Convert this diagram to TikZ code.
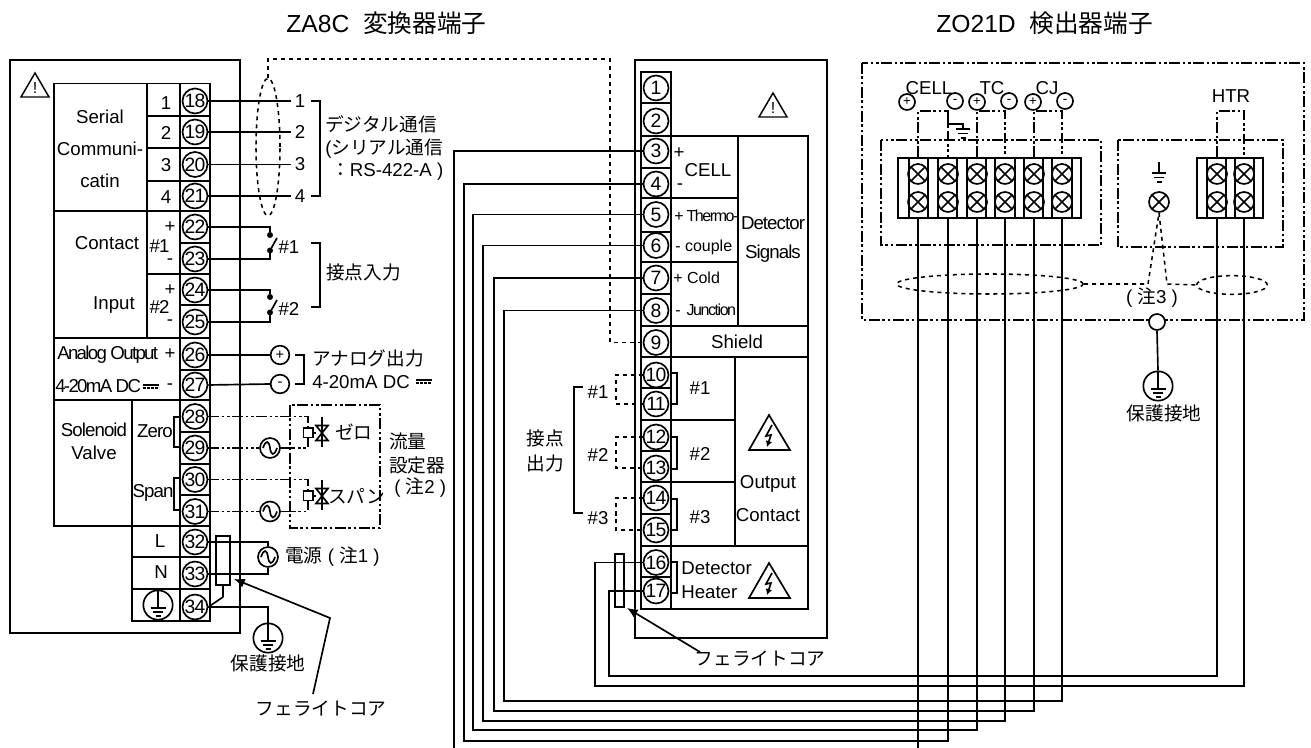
\documentclass[tikz,border=0pt]{standalone}
\usepackage{fontspec}
\usetikzlibrary{shapes.geometric, arrows.meta}
\setmainfont{Liberation Sans}
\newfontfamily\cjk{Noto Sans CJK JP}
\newfontfamily\tightfont[LetterSpace=-9]{Liberation Sans}
\newfontfamily\snugfont[LetterSpace=-5]{Liberation Sans}

\tikzset{
    every node/.style={inner sep=0pt, font=\fontsize{14}{17}\selectfont},
    frame/.style={line width=1.6pt},
    cell/.style={line width=1.25pt},
    wire/.style={line width=1.25pt},
    dashdot/.style={line width=1.15pt, dash pattern=on 8pt off 2pt on 2pt off 2pt on 2pt off 2pt},
    shield/.style={line width=1.15pt, dash pattern=on 3pt off 3pt},
    term/.style={draw, circle, line width=1.25pt, minimum size=18.75pt, font=\fontsize{14.5}{16}\snugfont},
    ring/.style={draw, circle, line width=1.25pt, minimum size=14pt, font=\fontsize{11}{13}\selectfont},
    ringsmall/.style={ring, minimum size=12pt, font=\fontsize{10}{12}\selectfont},
    earth/.style={ring, minimum size=22pt},
    source/.style={ring, minimum size=15pt},
    tag/.style={inner sep=3pt},
    spot/.style={draw, circle, fill=black, minimum size=4pt},
    core/.style={draw, line width=1.25pt},
    bigtip/.style={-{Latex[length=8pt,width=7pt]}},
    screw/.style={draw, circle, line width=1.25pt, minimum size=15pt, path picture={
        \draw[line width=1.25pt] (path picture bounding box.south west) -- (path picture bounding box.north east);
        \draw[line width=1.25pt] (path picture bounding box.north west) -- (path picture bounding box.south east);}},
    small/.style={font=\fontsize{12}{14}\selectfont},
    title/.style={font=\fontsize{18.5}{22}\selectfont},
}

\begin{document}
\begin{tikzpicture}[x=0.75pt, y=-0.75pt]
    \useasboundingbox (0, 0) rectangle (1311, 748);

    % titles
    \node[title, anchor=west] (titleza) at (286, 23) {ZA8C\ \ {\cjk 変換器端子}};
    \node[title, anchor=west] (titlezo) at (936, 23) {ZO21D\ \ {\cjk 検出器端子}};

    % converter panel
    \draw[frame] (10, 60) rectangle (240, 633);
    \draw[cell] (180, 83.5) rectangle (210, 621);
    \foreach \y in {116, 148, 181, 211, 243, 274, 305, 338, 370, 400, 432, 464, 495, 526, 557, 589}
        \draw[cell] (180, \y) -- (210, \y);
    \draw[cell] (180, 83.5) -- (54, 83.5) -- (54, 526) -- (180, 526);
    \draw[cell] (147, 83.5) -- (147, 338);
    \draw[cell] (132, 400) -- (132, 621) -- (180, 621);
    \foreach \y in {116, 148, 181, 274}
        \draw[cell] (147, \y) -- (180, \y);
    \foreach \y in {557, 589}
        \draw[cell] (132, \y) -- (180, \y);
    \foreach \y in {211, 338, 400}
        \draw[cell] (54, \y) -- (180, \y);
    \draw[cell] (180, 417) -- (174, 417) -- (174, 447) -- (180, 447);
    \draw[cell] (180, 478) -- (174, 478) -- (174, 510) -- (180, 510);

    \foreach \n/\y in {18/101, 19/132, 20/164.5, 21/196, 22/227, 23/259, 24/290, 25/322, 26/355, 27/385,
                       28/416.5, 29/448, 30/479.5, 31/511.5, 32/542, 33/574, 34/607}
        \node[term] (t\n) at (195, \y) {\n};

    \node (nserial) at (100, 117) {Serial};
    \node (ncomm) at (100, 149) {Communi-};
    \node (ncatin) at (100, 181) {catin};
    \foreach \n/\y in {1/103, 2/133, 3/165, 4/197}
        \node (pin\n) at (166, \y) {\n};
    \node (ncontact) at (107, 243) {Contact};
    \node (ninput) at (114, 305) {Input};
    \node (nca) at (159.5, 246) {\snugfont\#1};
    \node (ncb) at (159.5, 307) {\snugfont\#2};
    \node (cap) at (170, 227) {+};
    \node (cam) at (170, 262) {-};
    \node (cbp) at (170, 290) {+};
    \node (cbm) at (170, 323) {-};
    \node[anchor=west] (nanalog) at (57, 355) {\tightfont Analog Output};
    \node[anchor=west] (nma) at (55, 386) {\tightfont 4-20mA DC};
    \node (anp) at (170, 354) {+};
    \node (anm) at (170, 387) {-};
    \node (nsol) at (94, 430) {\snugfont Solenoid};
    \node (nvalve) at (94, 453) {Valve};
    \node (nzero) at (155, 431) {\snugfont Zero};
    \node (nspan) at (153, 493) {\snugfont Span};
    \node (nl) at (160, 541) {L};
    \node (nn) at (161, 572) {N};
    \node[earth] (gea) at (158, 605) {};

    % serial wires
    \node[ellipse, draw, shield, minimum width=18pt, minimum height=103pt] (shroud) at (268, 147) {};
    \foreach \n/\t/\y in {1/18/101, 2/19/132, 3/20/164.5, 4/21/196} {
        \node[tag] (d\n) at (300, \y) {\n};
        \draw[wire] (t\t.east) -- (d\n.west);
    }
    \draw[wire] (311, 101) -- (320, 101) -- (320, 196) -- (311, 196);
    \node[anchor=west] (ndigi) at (325, 124) {\cjk デジタル通信};
    \node[anchor=west] (nseri) at (325, 149) {({\cjk シリアル通信}};
    \node[anchor=west] (nrs) at (331, 172) {{\cjk ：}RS-422-A )};

    % contact inputs
    \foreach \a/\b/\n/\y in {22/23/1/235, 24/25/2/297} {
        \node[spot] (swa\n) at (270, \y) {};
        \node[spot] (swb\n) at (270, \y+15.5) {};
        \coordinate (arm\n) at (277, \y+3);
        \draw[wire] (t\a.east) -| (swa\n);
        \draw[wire] (t\b.east) -| (swb\n);
        \draw[wire] (swb\n) -- (arm\n);
        \node (ns\n) at (289, \y+12) {\#\n};
    }
    \draw[wire] (311, 243) -- (320, 243) -- (320, 307) -- (311, 307);
    \node[anchor=west] (ninp) at (326, 272) {\cjk 接点入力};

    % analog output
    \node[ring] (app) at (280, 355) {+};
    \node[ring] (apm) at (280, 384) {-};
    \draw[wire] (t26.east) -- (app.west);
    \draw[wire] (t27.east) -- (apm.west);
    \draw[wire] (295, 355) -- (304, 355) -- (304, 384) -- (295, 384);
    \node[anchor=west] (naout) at (312, 358) {\cjk アナログ出力};
    \node[anchor=west] (nadc) at (312, 382) {4-20mA DC};
    \foreach \x/\y in {143/385, 416/380} {
        \draw[line width=0.8pt] (\x, \y) -- (\x+16, \y);
        \draw[line width=0.8pt, dash pattern=on 2pt off 1pt] (\x, \y+3) -- (\x+16, \y+3);
    }

    % flow setting box
    \draw[dashdot] (290, 405) rectangle (380, 528);
    \foreach \v/\a/\b/\y/\s in {z/28/29/433/448, p/30/31/496/511.5} {
        \node[source] (src\v) at (270, \s) {};
        \coordinate (turn\v) at (308, \s);
        \coordinate (edge\v) at (290, \s);
        \draw[dashdot] (t\a.east) -| (turn\v) -- (edge\v);
        \draw[wire] (src\v.east) -- (edge\v);
        \draw[dashdot] (t\b.east) -- (src\v.west);
        \node[draw, line width=1.25pt, minimum size=7pt, fill=white] (sq\v) at (308, \y) {};
        \draw[wire] (sq\v.east) -- (316, \y);
        \draw[wire] (316, \y-7.5) -- (328, \y-7.5) -- (316, \y+7.5) -- (328, \y+7.5) -- cycle;
        \draw[wire] (322, \y-16) -- (322, \y+14);
    }
    \node[anchor=west] (nzr) at (335, 432) {\cjk ゼロ};
    \node[anchor=west] (nsp) at (328, 496) {\cjk スパン};
    \node[anchor=west] (nflow) at (389, 441) {\cjk 流量};
    \node[anchor=west] (nset) at (389, 465) {\cjk 設定器};
    \node[anchor=west] (nnote) at (394, 488) {( {\cjk 注}2 )};

    % power
    \node[source] (srcm) at (268, 557) {};
    \draw[wire] (t32.east) -| (srcm.north);
    \draw[wire] (t33.east) -| (srcm.south);
    \node[anchor=west] (npow) at (285, 557) {{\cjk 電源} ( {\cjk 注}1 )};
    \foreach \n in {srcz, srcp, srcm} {
        \draw[wire, shift={(\n)}] (-7, 0) .. controls (-4, -9) and (-1, -7) .. (0, 0) .. controls (1, 7) and (4, 9) .. (7, 0);
    }
    \node[core, minimum width=10.5pt, minimum height=37pt] (corea) at (223, 560.5) {};
    \node[earth] (geb) at (268, 638) {};
    \coordinate (kink) at (223, 597);
    \draw[wire] (t34.east) -- (kink) -- (corea.south);
    \draw[wire] (t34.east) -| (geb.north);
    \node (npea) at (268, 663) {\cjk 保護接地};
    \node (nfca) at (321, 709) {\cjk フェライトコア};
    \coordinate (fca) at (313, 694);
    \coordinate (fcb) at (330, 618);
    \coordinate (fcc) at (234, 579);
    \draw[wire, bigtip] (fca) -- (fcb) -- (fcc);

    % detector panel
    \draw[frame] (635, 60) rectangle (827, 638);
    \draw[cell] (641, 72) rectangle (671, 609);
    \foreach \y in {103, 136, 168, 198, 232, 262, 294, 326, 357, 388, 420, 451, 482, 514, 546, 577}
        \draw[cell] (641, \y) -- (671, \y);
    \draw[cell] (671, 136) -- (808, 136) -- (808, 609) -- (671, 609);
    \draw[cell] (738, 136) -- (738, 326);
    \draw[cell] (734.7, 357) -- (734.7, 546);
    \foreach \y in {198, 262}
        \draw[cell] (671, \y) -- (738, \y);
    \foreach \y in {326, 357, 546}
        \draw[cell] (671, \y) -- (808, \y);
    \foreach \y in {420, 482}
        \draw[cell] (671, \y) -- (734.7, \y);
    \foreach \a/\b in {373/404, 437/469, 499/530, 562/593}
        \draw[cell] (671, \a) -- (677, \a) -- (677, \b) -- (671, \b);

    \foreach \n/\y in {1/88, 2/121, 3/151, 4/184, 5/214.5, 6/245.5, 7/278, 8/310.5, 9/342.5, 10/375, 11/404,
                       12/437, 13/468, 14/498, 15/530, 16/562.5, 17/591}
        \node[term] (t\n) at (656, \y) {\n};

    \node (cellp) at (679, 153) {+};
    \node (ncell) at (708, 170) {CELL};
    \node (cellm) at (680, 187) {-};
    \node[small, anchor=west] (nth) at (674, 216) {\tightfont + Thermo-};
    \node[small, anchor=west] (ncoup) at (675, 247) {- couple};
    \node[small, anchor=west] (ncold) at (673, 278) {+ Cold};
    \node[small, anchor=west] (njunc) at (675, 310) {\tightfont - \ Junction};
    \node (ndet) at (773, 223) {\snugfont Detector};
    \node (nsig) at (773, 254) {\snugfont Signals};
    \node (nshield) at (737, 342) {Shield};
    \foreach \n/\y in {1/388, 2/454, 3/517}
        \node (nr\n) at (700, \y) {\#\n};
    \node (noutp) at (768, 484) {Output};
    \node (ncont) at (768, 515) {Contact};
    \node[anchor=west] (nhd) at (681, 568) {Detector};
    \node[anchor=west] (nhh) at (681, 592) {Heater};

    % warning marks
    \foreach \n/\x/\y in {a/35/73, b/773/93} {
        \draw[line width=1.1pt] (\x, \y) -- (\x-14, \y+24) -- (\x+14, \y+24) -- cycle;
        \node[font=\fontsize{12}{13}\selectfont] (warn\n) at (\x, \y+15) {!};
    }
    \foreach \y in {415, 563} {
        \draw[cell] (769, \y) -- (749, \y+35) -- (790, \y+35) -- cycle;
        \draw[wire, -{Latex[length=4.5pt,width=5pt]}] (772, \y+10) -- (766, \y+21) -- (771, \y+20) -- (767, \y+32);
    }

    % contact outputs
    \node (ncaa) at (545, 438) {\cjk 接点};
    \node (ncab) at (545, 463) {\cjk 出力};
    \draw[wire] (583, 387) -- (574, 387) -- (574, 513) -- (583, 513);
    \foreach \n/\a/\b/\y in {1/10/11/389, 2/12/13/452, 3/14/15/515} {
        \node (nl\n) at (598, \y+3) {\#\n};
        \coordinate (lp\n) at (616, \y);
        \draw[shield] (t\a.west) -| (lp\n) |- (t\b.west);
    }

    % shield
    \coordinate (shtop) at (610, 59);
    \draw[shield] (shroud.north) |- (shtop) |- (t9.west);

    % ferrite core at the heater terminals
    \node[core, minimum width=7pt, minimum height=40pt] (coreb) at (619.5, 580.5) {};
    \node (nfcb) at (760, 659) {\cjk フェライトコア};
    \coordinate (fcd) at (700, 652);
    \coordinate (fce) at (627, 608);
    \draw[wire, bigtip] (fcd) -- (fce);

    % detector terminals
    \draw[dashdot] (862, 63) rectangle (1304, 320);
    \draw[dashdot] (881, 140) rectangle (1101, 245);
    \draw[dashdot] (1118, 140) rectangle (1283, 247);
    \node[draw, line width=1.25pt, minimum width=137pt, minimum height=45pt] (bla) at (989.5, 188) {};
    \node[draw, line width=1.25pt, minimum width=49.5pt, minimum height=45pt] (blb) at (1230, 188) {};
    \foreach \x in {909, 928, 938, 957, 967, 986, 995, 1015, 1024, 1043, 1052, 1072, 1207, 1226, 1235, 1254}
        \draw[cell] (\x, 158) -- (\x, 218);
    \foreach \n/\x in {a/918, b/948, c/977, d/1005, e/1034, f/1062, g/1217, h/1244} {
        \node[screw] (s\n u) at (\x, 174) {};
        \node[screw] (s\n) at (\x, 202) {};
    }
    \node[screw] (seth) at (1159, 202) {};
    \draw[wire] (1159, 162) -- (1159, 173);
    \foreach \x/\y in {963/129, 1159/173} {
        \draw[wire] (\x-7, \y) -- (\x+7, \y);
        \draw[wire] (\x-5, \y+4.5) -- (\x+5, \y+4.5);
        \draw[wire] (\x-2.5, \y+9) -- (\x+2.5, \y+9);
    }
    \foreach \n/\x/\y/\s in {a/907/102/+, b/955/101/-, c/977/102/+, d/1009/101/-, e/1033/102/+, f/1065/101/-}
        \node[ringsmall] (r\n) at (\x, \y) {\s};
    \node (ncella) at (929, 88) {CELL};
    \node (ntc) at (992, 88) {TC};
    \node (ncj) at (1047, 88) {CJ};
    \node (nhtr) at (1231, 96) {HTR};
    \foreach \p/\q/\b in {a/b/a, c/d/a, e/f/a, g/h/b}
        \draw[dashdot] (s\p |- bl\b.north) -- (s\p |- 0,111) -| (s\q |- bl\b.north);
    \draw[wire] (948, 116) -- (948, 124) -- (963, 124) -- (963, 129);

    % cable shields
    \node[ellipse, draw, shield, minimum width=140pt, minimum height=15pt] (ela) at (990, 284) {};
    \node[ellipse, draw, shield, minimum width=53pt, minimum height=14pt] (elb) at (1232, 285) {};
    \coordinate (ka) at (1148, 284);
    \coordinate (kb) at (1167, 284);
    \draw[shield] (ela.east) -- (ka) -- (seth.south) -- (kb) -- (elb.west);
    \node (nn3) at (1152, 298) {( {\cjk 注}3 )};
    \node[draw, circle, fill=white, line width=1.25pt, minimum size=12pt] (lead) at (1157, 322) {};
    \node[earth] (gec) at (1158, 386) {};
    \draw[wire] (lead.south) -- (gec.north);
    \node (npeb) at (1164, 413) {\cjk 保護接地};
    \foreach \n in {gea, geb, gec} {
        \draw[wire, shift={(\n)}] (0, -14) -- (0, 3);
        \draw[wire, shift={(\n)}] (-7.5, 3) -- (7.5, 3);
        \draw[wire, shift={(\n)}] (-5, 7) -- (5, 7);
        \draw[wire, shift={(\n)}] (-2.5, 11) -- (2.5, 11);
    }

    % long wires, panel to detector terminals
    \coordinate (drop3) at (454, 748);
    \coordinate (end3) at (918, 748);
    \draw[wire] (t3.west) -| (drop3);
    \draw[wire] (sa |- bla.south) -- (end3);
    \foreach \t/\s/\b/\x/\y in {4/b/a/464/741, 5/c/a/473/730, 6/d/a/483/721, 7/e/a/494/711, 8/f/a/504/701,
                                16/h/b/595/686, 17/g/b/609/676}
        \draw[wire] (t\t.west) -| (\x, \y) -| (s\s |- bl\b.south);
\end{tikzpicture}
\end{document}
